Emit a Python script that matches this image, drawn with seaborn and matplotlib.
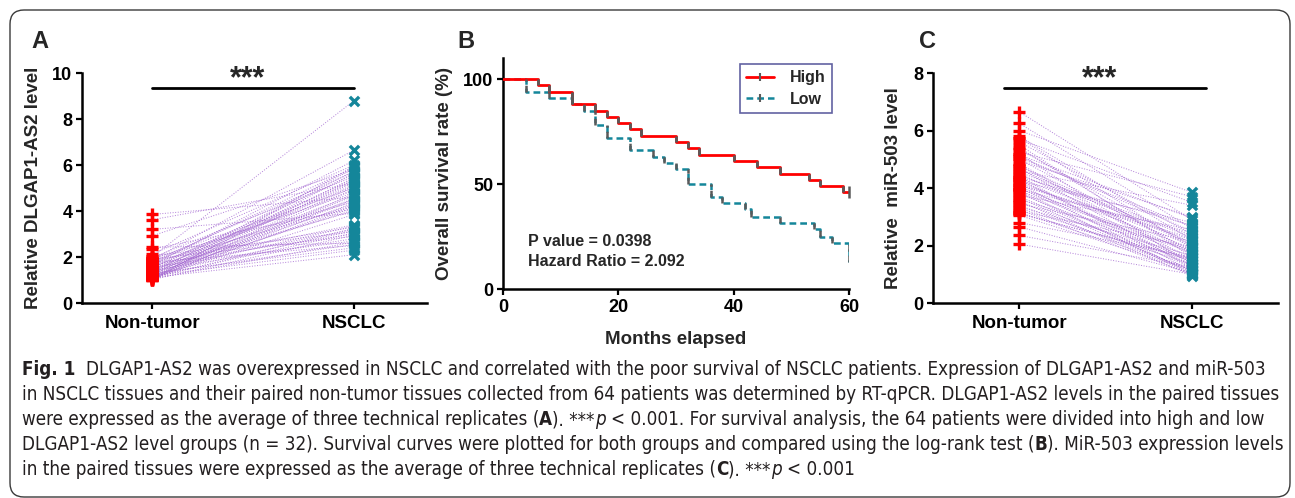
# Fig. 1 - DLGAP1-AS2 / miR-503 paired plots and survival curve

import matplotlib
matplotlib.use('Agg')
import matplotlib.pyplot as plt
import seaborn as sns
import pandas as pd
from matplotlib.lines import Line2D
from matplotlib.patches import FancyBboxPatch
from matplotlib.transforms import IdentityTransform
from matplotlib import font_manager

W, H = 1295, 498

# Panel A: DLGAP1-AS2 (paired, same index = same patient)
dlgap_nontumor = [3.85, 3.62, 3.2, 2.92, 2.42, 2.35, 2.12, 2.05, 2.0, 1.97,
                  1.95, 1.92, 1.9, 1.88, 1.85, 1.82, 1.8, 1.78, 1.75, 1.72,
                  1.7, 1.68, 1.65, 1.62, 1.6, 1.58, 1.55, 1.52, 1.5, 1.48,
                  1.45, 1.42, 1.4, 1.38, 1.36, 1.34, 1.32, 1.3, 1.28, 1.26,
                  1.24, 1.22, 1.2, 1.18, 1.16, 1.15, 1.14, 1.13, 1.12, 1.11,
                  1.1, 1.09, 1.08, 1.07, 1.06, 1.05, 1.04, 1.03, 1.02, 1.01,
                  1.0, 1.25, 1.35, 1.55]
dlgap_nsclc = [4.6, 5.2, 3.9, 5.8, 2.6, 4.1, 6.0, 3.1, 8.8, 5.5,
               4.4, 2.9, 5.0, 6.65, 3.3, 4.8, 5.7, 2.5, 4.2, 5.9,
               3.0, 4.9, 6.2, 3.4, 5.3, 2.7, 4.5, 5.6, 3.2, 4.0,
               5.1, 2.8, 4.7, 5.4, 3.35, 4.3, 5.85, 2.4, 4.05, 5.25,
               3.15, 4.65, 5.75, 2.3, 4.35, 5.05, 3.05, 4.15, 5.45, 2.1,
               3.85, 4.95, 3.25, 4.55, 5.65, 2.65, 4.25, 5.35, 2.95, 4.75,
               5.95, 2.55, 4.45, 5.15]

# Panel C: miR-503
mir_nontumor = [6.65, 6.25, 6.0, 5.8, 5.75, 5.7, 5.6, 5.5, 5.35, 5.25,
                5.2, 5.1, 5.0, 4.95, 4.85, 4.75, 4.7, 4.6, 4.5, 4.45,
                4.4, 4.35, 4.3, 4.25, 4.2, 4.15, 4.1, 4.05, 4.0, 3.95,
                3.9, 3.85, 3.8, 3.75, 3.7, 3.6, 3.55, 3.5, 3.45, 3.4,
                3.35, 3.3, 3.25, 3.2, 3.15, 3.1, 4.55, 4.65, 4.8, 5.05,
                5.15, 5.4, 3.65, 3.98, 4.12, 4.28, 3.92, 2.8, 2.65, 2.35,
                2.05, 3.05, 3.12, 4.38]
mir_nsclc = [2.9, 2.6, 3.85, 2.2, 1.9, 3.5, 2.4, 1.6, 2.0, 3.7,
             1.3, 2.5, 1.8, 3.0, 1.5, 2.1, 1.2, 3.4, 1.7, 2.3,
             1.1, 2.0, 1.4, 2.8, 1.9, 1.0, 2.2, 1.6, 1.3, 2.45,
             1.75, 1.05, 1.5, 2.55, 1.25, 1.85, 0.95, 1.45, 2.15, 1.15,
             1.65, 1.35, 1.0, 1.95, 1.2, 1.55, 2.35, 2.05, 1.4, 2.65,
             2.95, 1.7, 1.1, 1.8, 2.25, 1.3, 0.98, 1.6, 1.05, 1.25,
             1.0, 1.15, 1.5, 2.7]

group_labels = ['Non-tumor', 'NSCLC']

# Panel B: Kaplan-Meier steps (months, % surviving)
high_t = [0, 6, 8, 12, 16, 18, 20, 22, 24, 30, 32, 34, 40, 44, 48, 53, 55, 59, 60]
high_s = [100, 97, 94, 88, 85, 82, 79, 76, 73, 70, 67, 64, 61, 58, 55, 52, 49, 46, 46]
low_t = [0, 4, 8, 12, 14, 16, 18, 22, 26, 28, 30, 32, 36, 38, 42, 43, 48, 54, 55, 57, 60]
low_s = [100, 94, 91, 88, 85, 78, 72, 66, 63, 60, 57, 50, 44, 41, 38, 34.5, 31.5, 28.5, 25, 22, 13]
high_censor_t = [60]
high_censor_s = [46]

RED = '#ff0000'
TEAL = '#14869a'
PURPLE = '#a56ad2'
CAP_COLOR = '#231f20'

caption_lines = [
    [("Fig. 1", 'bold', 'normal'),
     ("  DLGAP1-AS2 was overexpressed in NSCLC and correlated with the poor survival of NSCLC patients. "
      "Expression of DLGAP1-AS2 and miR-503", 'normal', 'normal')],
    [("in NSCLC tissues and their paired non-tumor tissues collected from 64 patients was determined by "
      "RT-qPCR. DLGAP1-AS2 levels in the paired tissues", 'normal', 'normal')],
    [("were expressed as the average of three technical replicates (", 'normal', 'normal'),
     ("A", 'bold', 'normal'), ("). ***", 'normal', 'normal'), ("p", 'normal', 'italic'),
     (" < 0.001. For survival analysis, the 64 patients were divided into high and low", 'normal', 'normal')],
    [("DLGAP1-AS2 level groups (n = 32). Survival curves were plotted for both groups and compared using "
      "the log-rank test (", 'normal', 'normal'),
     ("B", 'bold', 'normal'), ("). MiR-503 expression levels", 'normal', 'normal')],
    [("in the paired tissues were expressed as the average of three technical replicates (", 'normal', 'normal'),
     ("C", 'bold', 'normal'), ("). ***", 'normal', 'normal'), ("p", 'normal', 'italic'),
     (" < 0.001", 'normal', 'normal')],
]


def caption_font():
    # a narrow face is closest to the journal's condensed caption type
    names = {f.name for f in font_manager.fontManager.ttflist}
    for name in ['Liberation Sans Narrow', 'DejaVu Sans']:
        if name in names:
            return name
    return 'DejaVu Sans'


def px_axes(fig, left, top, right, bottom):
    # pixel box (from top-left) -> axes
    return fig.add_axes([left / W, 1 - bottom / H, (right - left) / W, (bottom - top) / H])


def style_axes(ax):
    sns.despine(ax=ax)
    for sp in ['left', 'bottom']:
        ax.spines[sp].set_linewidth(1.8)
        ax.spines[sp].set_color('black')
    ax.tick_params(direction='out', length=4, width=1.6, color='black', pad=3,
                   labelsize=13, labelcolor='black')
    for lab in ax.get_xticklabels() + ax.get_yticklabels():
        lab.set_fontweight('bold')
    ax.set_facecolor('none')


def paired_panel(ax, before, after, ymax, ylabel, bar_y, bar_x, star_xy):
    n = len(before)
    df = pd.DataFrame({'pair': list(range(n)) * 2,
                       'group': [0] * n + [1] * n,
                       'value': before + after})
    sns.lineplot(data=df, x='group', y='value', units='pair', estimator=None,
                 color=PURPLE, lw=0.7, linestyle=':', alpha=0.85, ax=ax, legend=False)
    sns.scatterplot(data=df[df.group == 0], x='group', y='value', marker='+',
                    color=RED, s=80, linewidth=2.4, ax=ax, legend=False, zorder=3)
    sns.scatterplot(data=df[df.group == 1], x='group', y='value', marker='x',
                    color=TEAL, s=45, linewidth=2.4, ax=ax, legend=False, zorder=3)

    ax.set_ylim(0, ymax)
    ax.set_yticks(range(0, ymax + 1, 2))
    ax.set_xticks([0, 1])
    ax.set_xticklabels(group_labels)
    ax.set_xlabel('')
    ax.set_ylabel(ylabel, fontsize=13.5, fontweight='bold')
    style_axes(ax)
    ax.tick_params(axis='x', labelsize=13.5, pad=5)

    # significance bar
    ax.plot(bar_x, [bar_y, bar_y], color='black', lw=2, clip_on=False)
    ax.text(star_xy[0], star_xy[1], '***', ha='center', va='center',
            fontsize=22, fontweight='bold', clip_on=False)


def km_panel(ax):
    dfh = pd.DataFrame({'t': high_t, 's': high_s})
    dfl = pd.DataFrame({'t': low_t, 's': low_s})
    sns.lineplot(data=dfh, x='t', y='s', estimator=None, sort=False, drawstyle='steps-post',
                 color=RED, lw=2.0, ax=ax, zorder=3)
    sns.lineplot(data=dfl, x='t', y='s', estimator=None, sort=False, drawstyle='steps-post',
                 color=TEAL, lw=1.8, linestyle=(0, (2.7, 1.6)), ax=ax, zorder=2)
    # the risers are drawn dark grey like in the original
    ax.vlines(high_t[1:], high_s[1:], high_s[:-1], colors='#5a5a5a', lw=2.0, zorder=4)
    ax.vlines(low_t[1:], low_s[1:], low_s[:-1], colors='#5a5a5a', lw=1.8,
              linestyles=(0, (2.7, 1.6)), zorder=4)
    ax.plot(high_censor_t, high_censor_s, ls='none', marker='|', ms=8, mew=1.8,
            color='#5a5a5a', zorder=5, clip_on=False)

    ax.set_xlim(0, 60)
    ax.set_ylim(0, 110)
    ax.set_xticks([0, 20, 40, 60])
    ax.set_yticks([0, 50, 100])
    ax.set_xlabel('Months elapsed', fontsize=13.5, fontweight='bold')
    ax.set_ylabel('Overall survival rate (%)', fontsize=13.5, fontweight='bold')
    style_axes(ax)

    ax.text(4.3, 22.4, 'P value = 0.0398', fontsize=11.5, fontweight='bold', va='center')
    ax.text(4.3, 13.3, 'Hazard Ratio = 2.092', fontsize=11.5, fontweight='bold', va='center')

    handles = [Line2D([0], [0], color=RED, lw=2.0, marker='|', ms=6, mew=1.5, mec='#5a5a5a'),
               Line2D([0], [0], color=TEAL, lw=1.8, ls=(0, (2.7, 1.6)), marker='|', ms=6,
                      mew=1.5, mec='#5a5a5a')]
    leg = ax.legend(handles, ['High', 'Low'], loc='upper left', bbox_to_anchor=(0.685, 0.975),
                    borderaxespad=0, frameon=True, fancybox=False, handlelength=1.7,
                    prop={'weight': 'bold', 'size': 11.5}, borderpad=0.4, labelspacing=0.4,
                    handletextpad=1.0)
    leg.get_frame().set_edgecolor('#3b3b8a')
    leg.get_frame().set_linewidth(1.2)


def text_width(fig, renderer, s, **kw):
    t = fig.text(0, 0, s, **kw)
    w = t.get_window_extent(renderer).width
    t.remove()
    return w


def draw_caption(fig, renderer):
    base = dict(family=caption_font(), fontstretch='condensed', color=CAP_COLOR)
    # fit the font size so the second (full) line spans the box width
    w12 = text_width(fig, renderer, caption_lines[1][0][0], fontsize=12, **base)
    size = 12 * (1278 - 22) / w12
    y = 375
    for parts in caption_lines:
        x = 22
        for s, weight, style in parts:
            kw = dict(fontsize=size, fontweight=weight, fontstyle=style, **base)
            sp = text_width(fig, renderer, 'a a', **kw) - text_width(fig, renderer, 'aa', **kw)
            lead = len(s) - len(s.lstrip(' '))
            trail = len(s) - len(s.rstrip(' '))
            x += lead * sp
            t = fig.text(x / W, 1 - y / H, s.strip(' '), ha='left', va='baseline', **kw)
            x += t.get_window_extent(renderer).width + trail * sp
        y += 25


def main():
    sns.set_theme(style='ticks')
    plt.rcParams['font.family'] = ['Liberation Sans', 'DejaVu Sans']

    fig = plt.figure(figsize=(W / 100, H / 100), dpi=100)
    fig.patch.set_facecolor('white')

    # Panel A
    axA = px_axes(fig, 82, 73, 427, 303)
    paired_panel(axA, dlgap_nontumor, dlgap_nsclc, 10, 'Relative DLGAP1-AS2 level',
                 9.35, [0, 1], (0.474, 9.72))
    axA.set_xlim(-0.347, 1.361)
    axA.yaxis.set_label_coords(-0.116, 0.5)

    # Panel B
    axB = px_axes(fig, 503, 58, 849, 289)
    km_panel(axB)
    axB.yaxis.set_label_coords(-0.145, 0.5)
    axB.xaxis.set_label_coords(0.5, -0.18)

    # Panel C
    axC = px_axes(fig, 933, 73, 1278, 303)
    paired_panel(axC, mir_nontumor, mir_nsclc, 8, 'Relative  miR-503 level',
                 7.48, [-0.087, 1.08], (0.465, 7.8))
    axC.set_xlim(-0.5, 1.5)
    axC.yaxis.set_label_coords(-0.09, 0.5)

    # panel letters
    for letter, x in [('A', 40), ('B', 466), ('C', 928)]:
        fig.text(x / W, 1 - 41 / H, letter, fontsize=17, fontweight='bold',
                 ha='center', va='center')

    renderer = fig.canvas.get_renderer()
    draw_caption(fig, renderer)

    # rounded frame around the whole figure
    frame = FancyBboxPatch((10, 1), 1280, 487, boxstyle='round,pad=0,rounding_size=14',
                           transform=IdentityTransform(), fill=False, ec='#3a3a3a', lw=1.0)
    fig.add_artist(frame)

    fig.savefig('out.png', dpi=100)


if __name__ == "__main__":
    main()
